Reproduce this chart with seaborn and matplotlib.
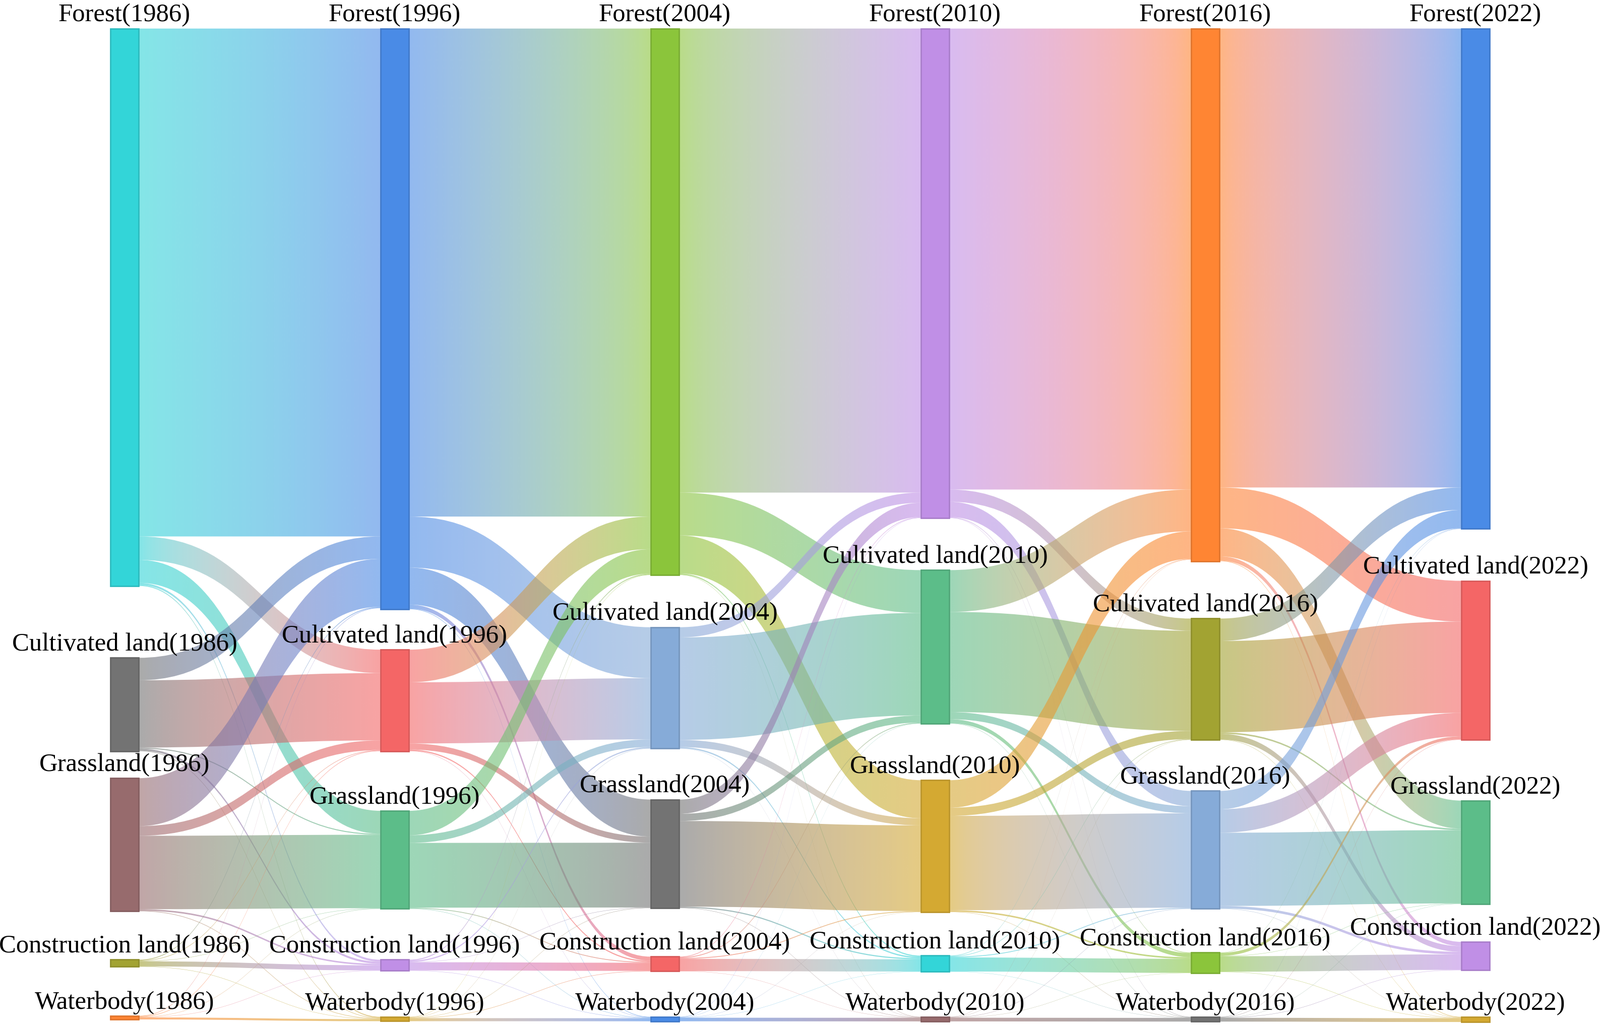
import numpy as np
import matplotlib.pyplot as plt
import seaborn as sns
from matplotlib.path import Path
from matplotlib.patches import PathPatch, Rectangle

sns.set_theme(style="white")
plt.rcParams['font.family'] = ['Liberation Serif', 'DejaVu Serif']

# ---------------- data ----------------
years = ["1986", "1996", "2004", "2010", "2016", "2022"]
land_types = ["Forest", "Cultivated land", "Grassland", "Construction land", "Waterbody"]

# rows = source class, cols = target class (order as land_types)
flow_1986_1996 = [
    [498, 23, 22.5, 2, 1],
    [22, 66, 1, 2, 0.5],
    [47, 9.5, 72, 1.5, 0.5],
    [0.8, 0.5, 0.3, 5, 0.3],
    [0.5, 0.5, 0.3, 0.3, 2],
]
flow_1996_2004 = [
    [478.5, 50, 36.3, 4, 0.5],
    [32, 60, 6, 1.2, 0.3],
    [24, 7.5, 63.5, 0.8, 0.3],
    [1, 1.2, 0.3, 8, 0.3],
    [0.3, 0.3, 0.3, 0.4, 3.0],
]
flow_2004_2010 = [
    [455, 42, 37.3, 1.2, 0.3],
    [10, 100.5, 7, 1.3, 0.2],
    [14, 7, 84, 1.1, 0.3],
    [0.6, 0.8, 0.8, 12, 0.2],
    [0.3, 0.2, 0.2, 0.2, 3.5],
]
flow_2010_2016 = [
    [452, 12, 15, 0.6, 0.3],
    [41, 98.2, 7, 4, 0.3],
    [27, 8, 92.5, 1.5, 0.3],
    [0.5, 0.5, 0.8, 13.8, 0.2],
    [0.2, 0.2, 0.3, 0.2, 3.6],
]
flow_2016_2022 = [
    [450, 40, 27.5, 4.2, 0.5],
    [22, 89.5, 1.5, 5.6, 0.3],
    [18, 23, 71.8, 2.5, 0.3],
    [0.3, 3, 0.3, 15.2, 0.3],
    [0.2, 0.3, 0.2, 0.3, 3.7],
]
transitions = [flow_1986_1996, flow_1996_2004, flow_2004_2010,
               flow_2010_2016, flow_2016_2022]

# ---------------- style / layout ----------------
cyan, gray, mauve, olive = "#33d5d8", "#737373", "#976b6d", "#a2a332"
orange, blue, red, green = "#ff8533", "#4a8be6", "#f46666", "#5cbd89"
purple, gold, lime, lblue = "#c08fe6", "#d4a932", "#8bc53b", "#86abd8"
node_colors = [
    [cyan, gray, mauve, olive, orange],
    [blue, red, green, purple, gold],
    [lime, lblue, gray, red, blue],
    [purple, green, gold, cyan, mauve],
    [orange, olive, lblue, lime, gray],
    [blue, red, green, purple, gold],
]
node_top = [
    [28, 645, 763, 941, 996],
    [28, 637, 795, 941, 997],
    [28, 615, 784, 938, 997],
    [28, 559, 765, 937, 997],
    [28, 606.5, 775.5, 934, 997],
    [28, 569.5, 785, 923.5, 997],
]
x_left0, x_step, node_w = 108, 264.8, 28
link_alpha = 0.6


def to_lin(c):
    c = np.asarray(c)
    return np.where(c <= 0.04045, c / 12.92, ((c + 0.055) / 1.055) ** 2.4)


def to_srgb(c):
    c = np.clip(c, 0, 1)
    return np.where(c <= 0.0031308, c * 12.92, 1.055 * c ** (1 / 2.4) - 0.055)


def gradient(c_a, c_b, n=64):
    a, b = (to_lin(np.array(c)) for c in sns.color_palette([c_a, c_b]))
    t = np.linspace(0, 1, n)[:, None]
    rgb = to_srgb(a * (1 - t) + b * t)
    return np.concatenate([rgb, np.full((n, 1), link_alpha)], axis=1)


fig = plt.figure(figsize=(31.74, 20.38), dpi=100)
ax = fig.add_axes([0, 0, 1, 1])

n_col = len(years)
mats = [np.array(m, dtype=float) for m in transitions]
sizes = []
for c in range(n_col):
    out_s = mats[c].sum(axis=1) if c < n_col - 1 else np.zeros(5)
    in_s = mats[c - 1].sum(axis=0) if c > 0 else np.zeros(5)
    sizes.append(np.maximum(out_s, in_s))

# ---------------- links ----------------
for k, m in enumerate(mats):
    x0 = x_left0 + k * x_step + node_w
    x1 = x_left0 + (k + 1) * x_step
    xm = (x0 + x1) / 2
    src_off = list(node_top[k])
    tgt_off = list(node_top[k + 1])
    for i in range(5):
        for j in range(5):
            w = m[i, j]
            sy, ty = src_off[i], tgt_off[j]
            src_off[i] += w
            tgt_off[j] += w
            verts = [(x0, sy), (xm, sy), (xm, ty), (x1, ty),
                     (x1, ty + w), (xm, ty + w), (xm, sy + w), (x0, sy + w),
                     (x0, sy)]
            codes = [Path.MOVETO, Path.CURVE4, Path.CURVE4, Path.CURVE4,
                     Path.LINETO, Path.CURVE4, Path.CURVE4, Path.CURVE4,
                     Path.CLOSEPOLY]
            patch = PathPatch(Path(verts, codes), facecolor="none",
                              edgecolor="none", lw=0)
            ax.add_patch(patch)
            rgba = gradient(node_colors[k][i], node_colors[k + 1][j])
            ylo, yhi = min(sy, ty) - 1, max(sy, ty) + w + 1
            im = ax.imshow(rgba[None, :, :], extent=[x0, x1, yhi, ylo],
                           aspect="auto", interpolation="bilinear", zorder=1)
            im.set_clip_path(patch)

# ---------------- nodes + labels ----------------
for c in range(n_col):
    x = x_left0 + c * x_step
    for i in range(5):
        col = node_colors[c][i]
        edge = tuple(np.array(sns.color_palette([col])[0]) * 0.88)
        ax.add_patch(Rectangle((x, node_top[c][i]), node_w, sizes[c][i],
                               facecolor=col, edgecolor=edge, lw=2, zorder=3))
        ax.text(x + node_w / 2, node_top[c][i] - 1.5,
                f"{land_types[i]}({years[c]})", ha="center", va="bottom",
                fontsize=36.5, color="black", zorder=10)

ax.set_xlim(0, 1568)
ax.set_ylim(1007, 0)
ax.axis("off")
fig.savefig("out.png", dpi=100, facecolor="white")
